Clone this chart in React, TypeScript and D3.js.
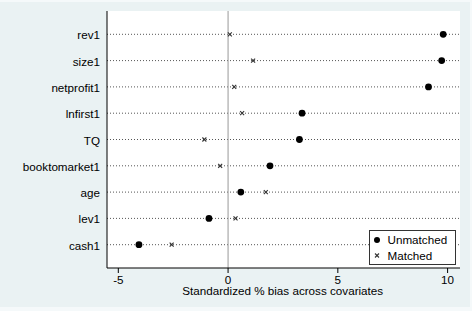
import React from "react";
import * as d3 from "d3";

const categories = ["rev1", "size1", "netprofit1", "lnfirst1", "TQ", "booktomarket1", "age", "lev1", "cash1"];
const unmatched = [9.8, 9.73, 9.13, 3.37, 3.25, 1.91, 0.58, -0.87, -4.06];
const matched = [0.08, 1.14, 0.28, 0.64, -1.08, -0.36, 1.72, 0.34, -2.57];
const xTicks = [-5, 0, 5, 10];
const xTitle = "Standardized % bias across covariates";
const legendLabels = ["Unmatched", "Matched"];

const W = 472;
const H = 311;
const plot = { left: 107, right: 460, top: 11, bottom: 268 };
const font = "'Liberation Sans', Arial, sans-serif";
const FS = 10.7;
const SX = 1.09;

function T(props: { x: number; y: number; anchor?: string; children: React.ReactNode }) {
  return (
    <text
      transform={`translate(${props.x},${props.y}) scale(${SX},1)`}
      textAnchor={props.anchor || "start"}
      fontSize={FS}
      fill="#000"
    >
      {props.children}
    </text>
  );
}

export default function App() {
  const x = d3.scaleLinear().domain([-5.515, 10.565]).range([plot.left, plot.right]);
  const y = d3.scalePoint<string>().domain(categories).range([plot.top, plot.bottom]).padding(0.886);

  const cross = (cx: number, cy: number, k: string) => (
    <g key={k} stroke="#333" strokeWidth={1.1}>
      <line x1={cx - 2} y1={cy - 2} x2={cx + 2} y2={cy + 2} />
      <line x1={cx - 2} y1={cy + 2} x2={cx + 2} y2={cy - 2} />
    </g>
  );

  return (
    <svg width={W} height={H} style={{ position: "absolute", left: 0, top: 0 }} fontFamily={font}>
      <rect x={0} y={0} width={W} height={H} fill="#f5f9fa" />
      <rect x={0} y={2} width={470} height={305} fill="#eaf2f3" />
      <rect x={plot.left} y={plot.top} width={plot.right - plot.left} height={plot.bottom - plot.top} fill="#ffffff" />
      {categories.map((c) => (
        <line key={"g" + c} x1={plot.left} x2={plot.right} y1={y(c)} y2={y(c)} stroke="#555" strokeWidth={1} strokeDasharray="1,2" />
      ))}
      <line x1={x(0)} x2={x(0)} y1={plot.top} y2={plot.bottom} stroke="#999" strokeWidth={1} />
      <line x1={plot.left} x2={plot.left} y1={plot.top} y2={plot.bottom} stroke="#000" strokeWidth={1} />
      <line x1={plot.left} x2={plot.right} y1={plot.bottom} y2={plot.bottom} stroke="#000" strokeWidth={1} />
      {xTicks.map((t) => (
        <g key={"t" + t}>
          <line x1={x(t)} x2={x(t)} y1={plot.bottom} y2={plot.bottom + 5} stroke="#000" />
          <T x={x(t)} y={284.3} anchor="middle">{String(t)}</T>
        </g>
      ))}
      <T x={282.7} y={294.7} anchor="middle">{xTitle}</T>
      {categories.map((c) => (
        <T key={"l" + c} x={100} y={(y(c) as number) + 5} anchor="end">{c}</T>
      ))}
      {categories.map((c, i) => cross(x(matched[i]), y(c) as number, "m" + c))}
      {categories.map((c, i) => (
        <circle key={"u" + c} cx={x(unmatched[i])} cy={y(c)} r={3.4} fill="#000" />
      ))}
      <g>
        <rect x={369.5} y={230.5} width={86} height={34} fill="#fff" stroke="#333" strokeWidth={1} />
        <circle cx={377} cy={240} r={3} fill="#000" />
        {cross(377, 255.5, "lm")}
        <T x={387.5} y={244}>{legendLabels[0]}</T>
        <T x={387.5} y={259.5}>{legendLabels[1]}</T>
      </g>
    </svg>
  );
}
